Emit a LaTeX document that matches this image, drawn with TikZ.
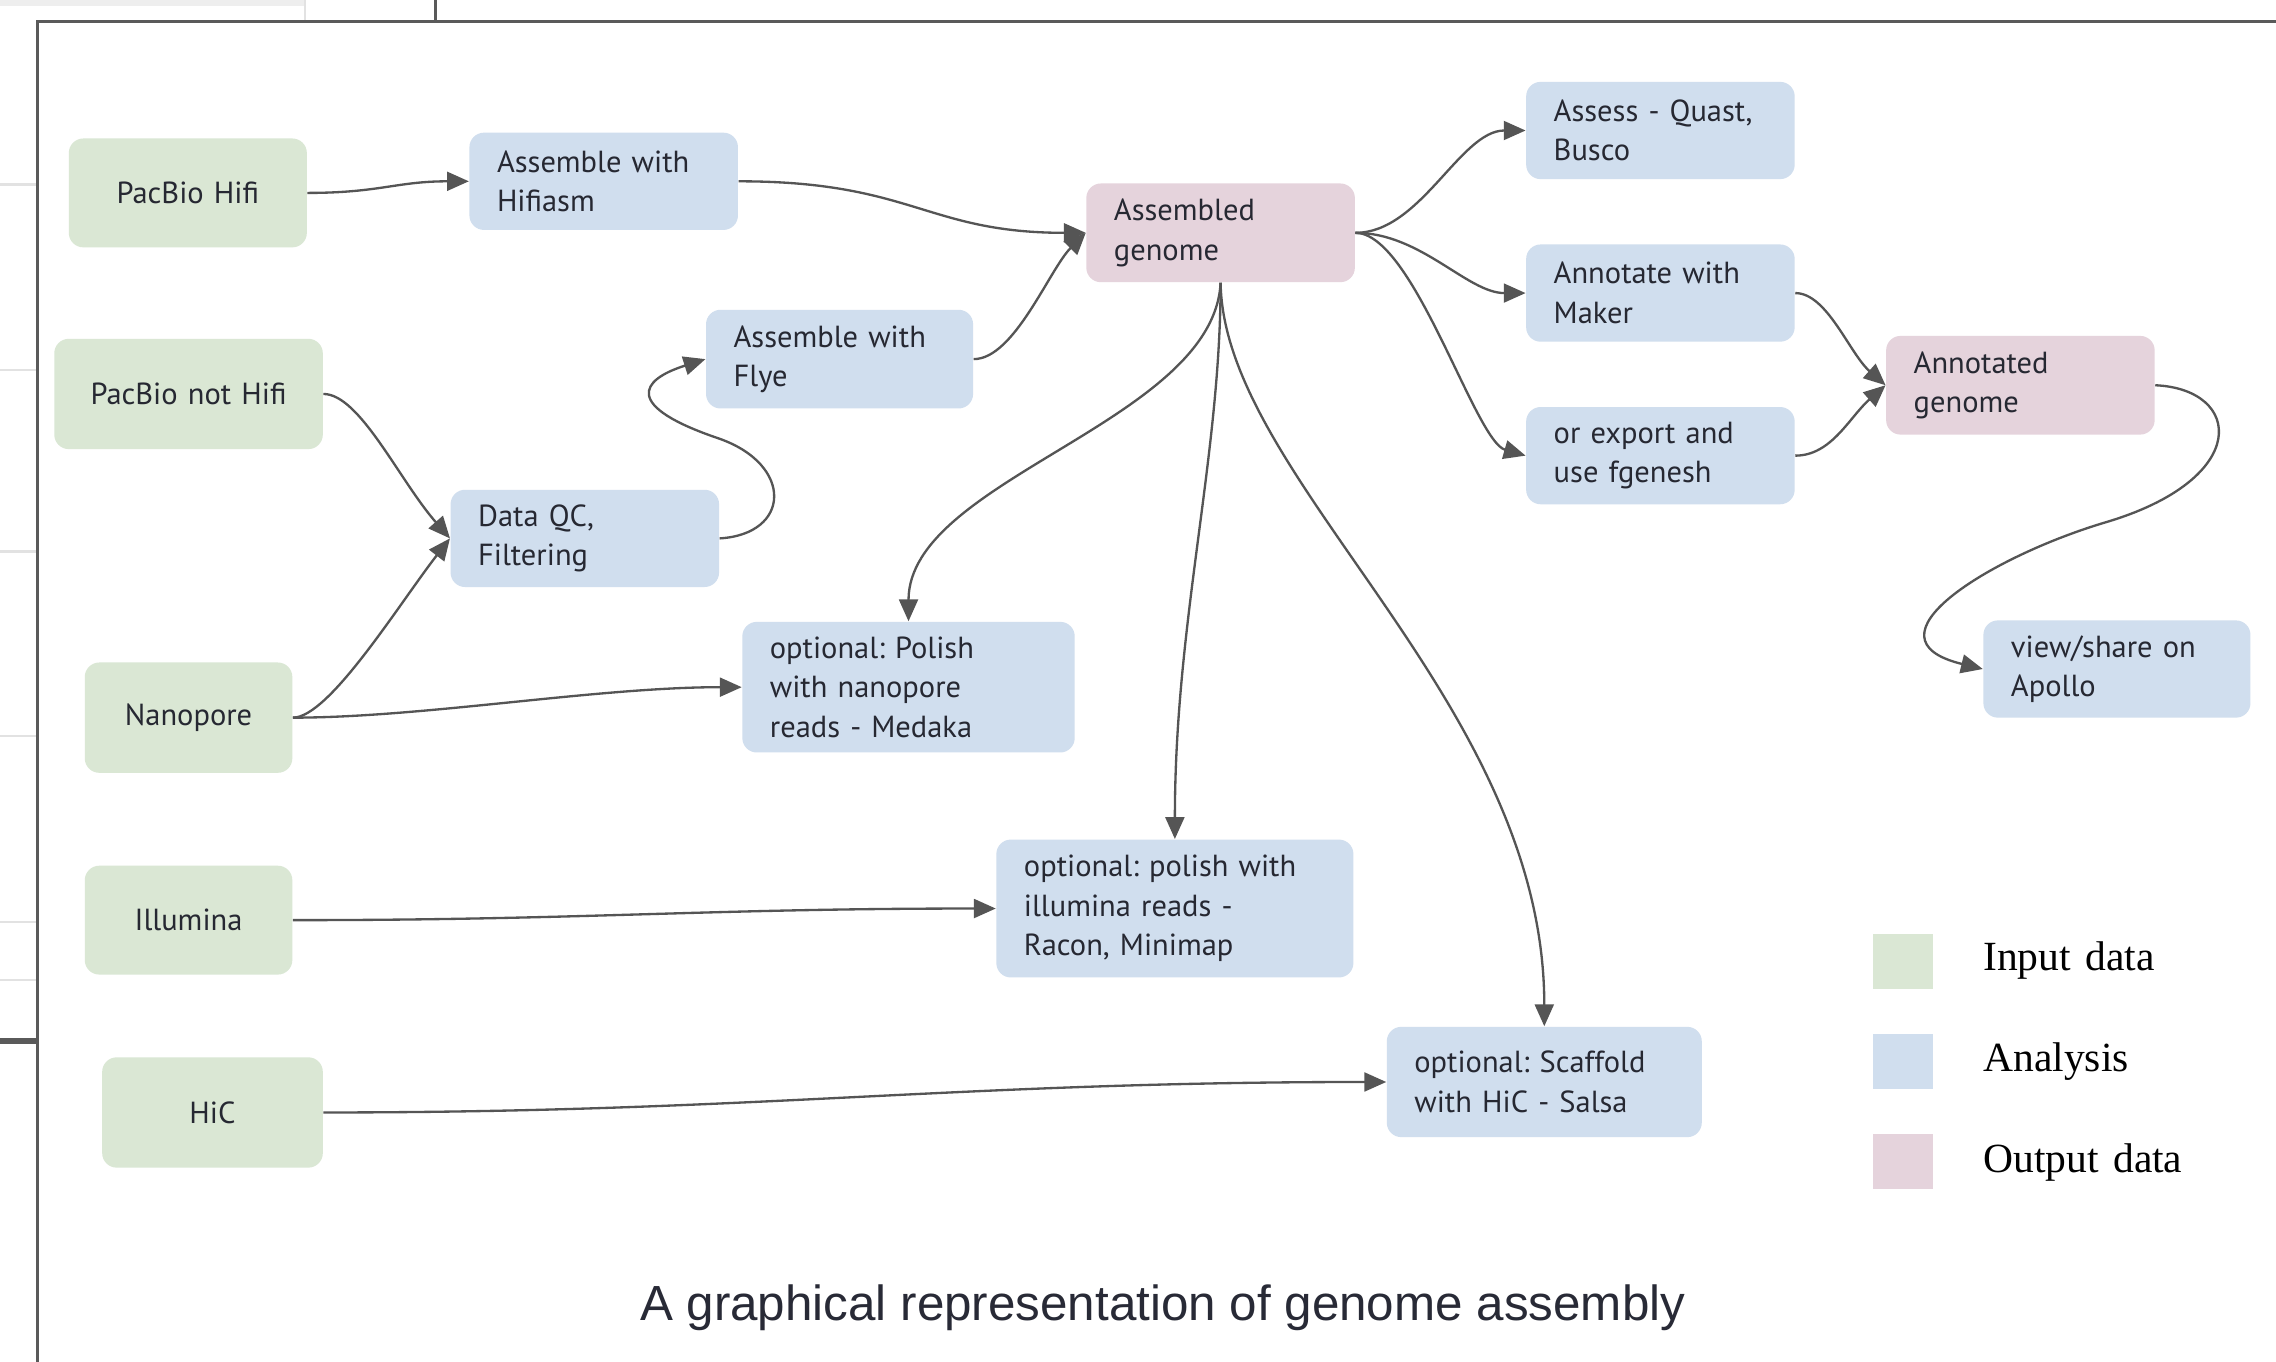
\documentclass[tikz,border=0pt]{standalone}
\usepackage{fontspec}
\setmainfont{PT Sans}
\newfontfamily\legfont{Liberation Serif}
\newfontfamily\capfont{Liberation Sans}
\usetikzlibrary{arrows.meta}
\definecolor{gIn}{RGB}{218,231,212}
\definecolor{bAn}{RGB}{208,222,238}
\definecolor{pOut}{RGB}{229,211,220}
\definecolor{lnc}{RGB}{85,85,85}
\definecolor{txc}{RGB}{38,40,50}
\definecolor{frm}{RGB}{90,90,90}
\definecolor{lgray}{RGB}{226,226,226}
\definecolor{capc}{RGB}{40,42,54}
\frenchspacing
\begin{document}
\frenchspacing
\begin{tikzpicture}[x=0.5pt,y=-0.5pt,
 nbox/.style={rounded corners=5pt, anchor=north west, inner xsep=9.5pt, inner ysep=0pt,
   align=left, text=txc, font=\frenchspacing\fontsize{10.5}{13.6}\selectfont},
 inbox/.style={nbox, fill=gIn, align=center},
 anbox/.style={nbox, fill=bAn},
 outbox/.style={nbox, fill=pOut},
 conn/.style={draw=lnc, line width=0.8pt, -{Triangle[length=7.5pt,width=6.5pt]}},
 legsq/.style={anchor=north west, inner sep=0pt, minimum width=20.5pt, minimum height=19pt},
 legtx/.style={anchor=west, inner sep=0pt, text=black, font=\legfont\fontsize{14.3}{16}\selectfont},
]
\useasboundingbox (0,0) rectangle (1568,938);
\fill[white] (0,0) rectangle (1568,938);
% screenshot frame
\fill[lgray!60] (0,0) rectangle (210,4);
\draw[lgray, line width=0.8pt] (210,0) -- (210,15);
\draw[frm, line width=1pt] (300,0) -- (300,15);
\foreach \yy in {127,255,380,507,635,675} \draw[lgray, line width=0.8pt] (0,\yy) -- (26,\yy);
\draw[frm, line width=2pt] (0,717) -- (26,717);
\draw[frm, line width=1.1pt] (26,938) -- (26,15) -- (1568,15);

% nodes
\node[inbox, minimum width=82pt, minimum height=37.5pt, text width=63pt] (hifi) at (47,95) {PacBio Hifi};
\node[anbox, minimum height=33.5pt, text width=73.5pt] (hifiasm) at (323,91) {Assemble with\\Hifiasm};
\node[outbox, minimum height=34pt, text width=73.5pt] (asm) at (748,126) {Assembled\\genome};
\node[anbox, minimum height=33.5pt, text width=73.5pt] (assess) at (1051,56) {Assess - Quast,\\Busco};
\node[anbox, minimum height=33.5pt, text width=73.5pt] (maker) at (1051,168) {Annotate with\\Maker};
\node[anbox, minimum height=33.5pt, text width=73.5pt] (fgen) at (1051,280) {or export and\\use fgenesh};
\node[outbox, minimum height=34pt, text width=73.5pt] (ann) at (1299,231) {Annotated\\genome};
\node[anbox, minimum height=33.5pt, text width=73pt] (apollo) at (1366,427) {view/share on\\Apollo};
\node[inbox, minimum height=38pt, text width=73.5pt] (pnh) at (37,233) {PacBio not Hifi};
\node[anbox, minimum height=34pt, text width=73pt] (flye) at (486,213) {Assemble with\\Flye};
\node[anbox, minimum height=33.5pt, text width=73.5pt] (qc) at (310,337) {Data QC,\\Filtering};
\node[inbox, minimum height=38pt, text width=52.5pt] (nano) at (58,456) {Nanopore};
\node[anbox, minimum height=45pt, text width=95.5pt] (medaka) at (511,428) {optional: Polish\\with nanopore\\reads - Medaka};
\node[inbox, minimum height=37.5pt, text width=52.5pt] (illu) at (58,596) {Illumina};
\node[anbox, minimum height=47.5pt, text width=104pt] (racon) at (686,578) {optional: polish with\\illumina reads -\\Racon, Minimap};
\node[inbox, minimum height=38pt, text width=57pt] (hic) at (70,728) {HiC};
\node[anbox, minimum height=38pt, text width=89.5pt] (salsa) at (955,707) {optional: Scaffold\\with HiC - Salsa};

% connectors
\draw[conn] (hifi.east) .. controls +(50,0) and +(-50,0) .. (hifiasm.west);
\draw[conn] (hifiasm.east) .. controls +(120,0) and +(-110,0) .. (asm.west);
\draw[conn] (flye.east) .. controls +(28,0) and +(-25,25) .. (asm.west);
\draw[conn] (pnh.east) .. controls +(25,0) and +(-35,-40) .. (qc.west);
\draw[conn] (nano.east) .. controls +(25,0) and +(-35,45) .. (qc.west);
\draw[conn] (nano.east) .. controls +(90,0) and +(-100,0) .. (medaka.west);
\draw[conn] (qc.east) .. controls (545,368) and (547,320) .. (495,302)
  .. controls (430,280) and (440,262) .. (flye.west);
\draw[conn] (illu.east) .. controls +(200,0) and +(-200,0) .. (racon.west);
\draw[conn] (hic.east) .. controls +(300,0) and +(-300,0) .. (salsa.west);
\draw[conn] (asm.south) .. controls +(-5,96) and +(0,-98) .. (medaka.north);
\draw[conn] (asm.south) .. controls +(0,120) and +(0,-150) .. (racon.north);
\draw[conn] (asm.south) .. controls +(2,136) and +(0,-225) .. (salsa.north);
\draw[conn] (asm.east) .. controls +(45,0) and +(-45,0) .. (assess.west);
\draw[conn] (asm.east) .. controls +(45,0) and +(-40,0) .. (maker.west);
\draw[conn] (asm.east) .. controls +(40,0) and +(-35,-10) .. (fgen.west);
\draw[conn] (maker.east) .. controls +(22,0) and +(-25,-22) .. (ann.west);
\draw[conn] (fgen.east) .. controls +(25,0) and +(-25,22) .. (ann.west);
\draw[conn] (ann.east) .. controls (1545,268) and (1552,330) .. (1450,360)
  .. controls (1370,384) and (1280,440) .. (apollo.west);

% legend
\node[legsq, fill=gIn] (lg1) at (1290,643) {};
\node[legsq, fill=bAn] (lg2) at (1290,712) {};
\node[legsq, fill=pOut] (lg3) at (1290,781) {};
\node[legtx] (lt1) at (1366,662) {Input\hspace{0.35em}data};
\node[legtx] (lt2) at (1366,731) {Analysis};
\node[legtx] (lt3) at (1366,801) {Output\hspace{0.35em}data};

% caption
\node[font=\capfont\fontsize{17}{20}\selectfont, text=capc] (cap) at (801,901) {A graphical representation of genome assembly};
\end{tikzpicture}
\end{document}
